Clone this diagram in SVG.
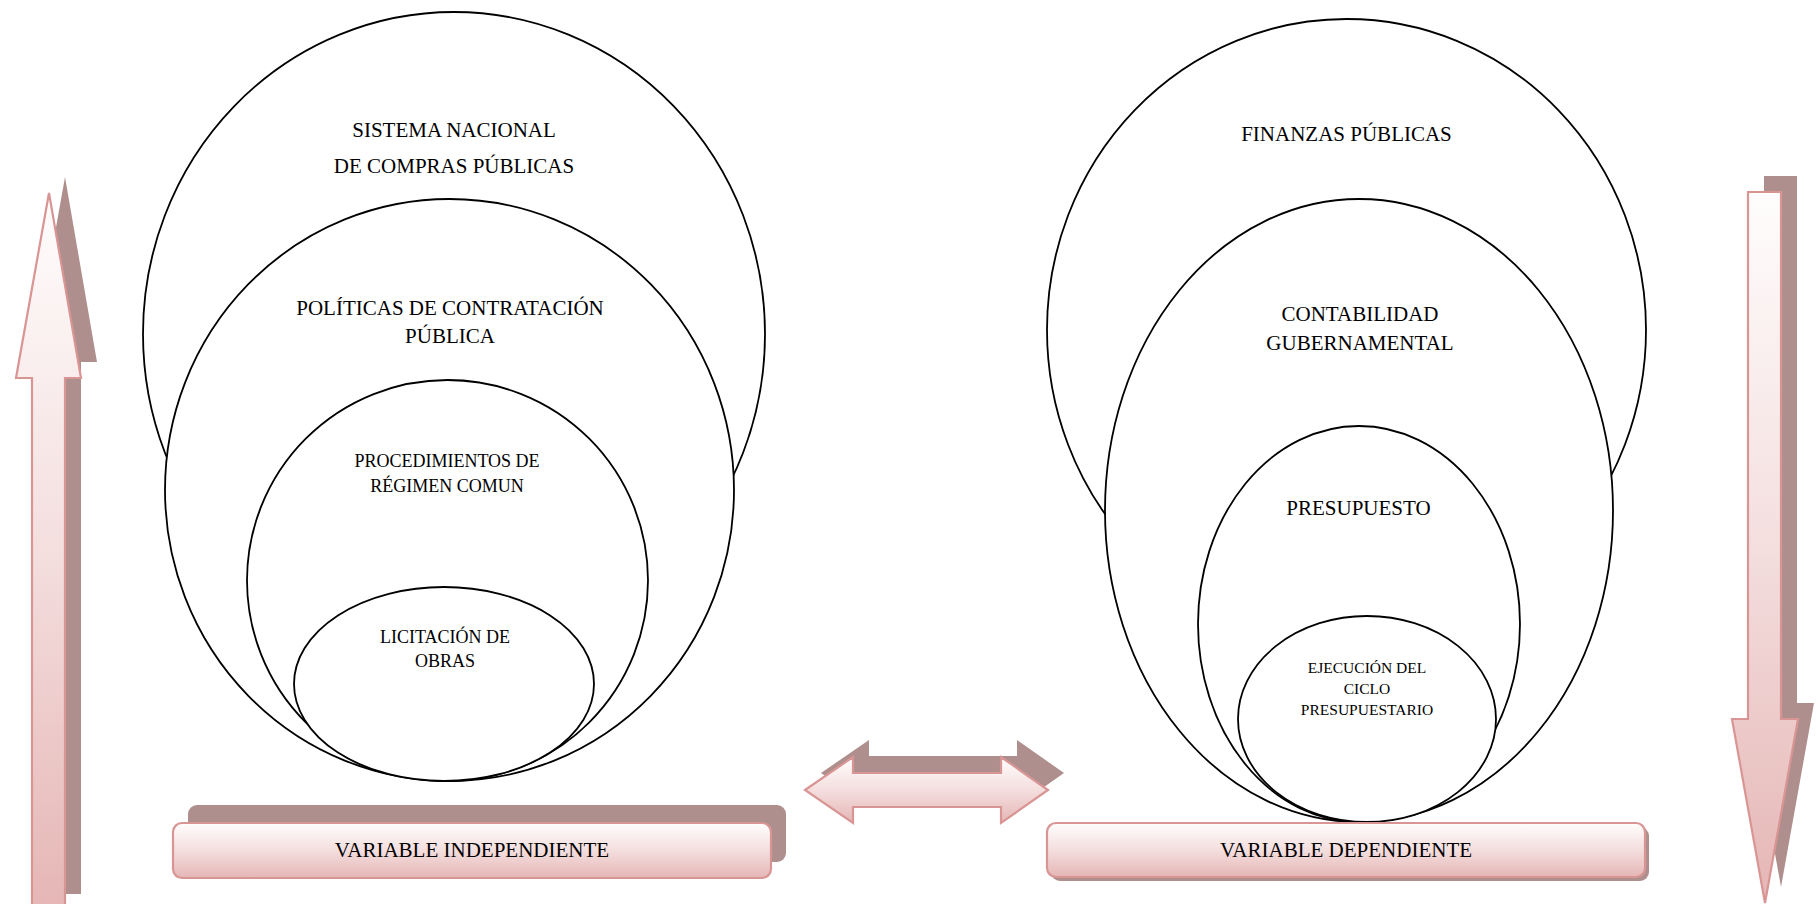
<svg xmlns="http://www.w3.org/2000/svg" width="1818" height="904" viewBox="0 0 1818 904">
<defs>
<linearGradient id="pinkV" x1="0" y1="0" x2="0" y2="1">
<stop offset="0" stop-color="#fffdfd"/>
<stop offset="0.5" stop-color="#f4dede"/>
<stop offset="1" stop-color="#e5b6b5"/>
</linearGradient>
<style>
.ell{fill:#fff;stroke:#000;stroke-width:1.8}
.lbl{font-family:"Liberation Serif","Times New Roman",serif;fill:#000;text-anchor:middle}
.shadow{fill:#ae8f8d}
.front{fill:url(#pinkV);stroke:#d99594;stroke-width:2.2;stroke-linejoin:miter}
</style>
</defs>
<rect width="1818" height="904" fill="#fff"/>

<g id="left-set">
<g id="n-sistema">
<ellipse class="ell" cx="454" cy="334" rx="311" ry="322"/>
<text class="lbl" x="454" y="137" font-size="21">SISTEMA NACIONAL</text>
<text class="lbl" x="454" y="173" font-size="21">DE COMPRAS PÚBLICAS</text>
</g>
<g id="n-politicas">
<ellipse class="ell" cx="449.5" cy="490" rx="284.5" ry="291"/>
<text class="lbl" x="450" y="315" font-size="21">POLÍTICAS DE CONTRATACIÓN</text>
<text class="lbl" x="450" y="343" font-size="21">PÚBLICA</text>
</g>
<g id="n-procedimientos">
<ellipse class="ell" cx="447.5" cy="580.5" rx="200.5" ry="200.5"/>
<text class="lbl" x="447" y="467" font-size="18">PROCEDIMIENTOS DE</text>
<text class="lbl" x="447" y="492" font-size="18">RÉGIMEN COMUN</text>
</g>
<g id="n-licitacion">
<ellipse class="ell" cx="444" cy="684" rx="150" ry="97"/>
<text class="lbl" x="445" y="643" font-size="18">LICITACIÓN DE</text>
<text class="lbl" x="445" y="667" font-size="18">OBRAS</text>
</g>
</g>

<g id="right-set">
<g id="n-finanzas">
<ellipse class="ell" cx="1346.5" cy="330" rx="299.5" ry="311"/>
<text class="lbl" x="1346.5" y="141" font-size="21">FINANZAS PÚBLICAS</text>
</g>
<g id="n-contabilidad">
<ellipse class="ell" cx="1359" cy="510.5" rx="254" ry="311.5"/>
<text class="lbl" x="1360" y="321" font-size="21">CONTABILIDAD</text>
<text class="lbl" x="1360" y="350" font-size="21">GUBERNAMENTAL</text>
</g>
<g id="n-presupuesto">
<ellipse class="ell" cx="1359" cy="624" rx="161" ry="198"/>
<text class="lbl" x="1358.5" y="515" font-size="21">PRESUPUESTO</text>
</g>
<g id="n-ejecucion">
<ellipse class="ell" cx="1367" cy="719" rx="129" ry="103"/>
<text class="lbl" x="1367" y="673" font-size="15.5">EJECUCIÓN DEL</text>
<text class="lbl" x="1367" y="694" font-size="15.5">CICLO</text>
<text class="lbl" x="1367" y="715" font-size="15.5">PRESUPUESTARIO</text>
</g>
</g>

<g id="connectors">
<g id="arrow-up">
<polygon class="shadow" transform="translate(16,-16)" points="49,193 81,378 65,378 65,910 32,910 32,378 16,378"/>
<polygon class="front" points="49,193 81,378 65,378 65,910 32,910 32,378 16,378"/>
</g>
<g id="arrow-down">
<polygon class="shadow" transform="translate(16,-16)" points="1748,192 1781,192 1781,719 1798,719 1765,903 1732,719 1748,719"/>
<polygon class="front" points="1748,192 1781,192 1781,719 1798,719 1765,903 1732,719 1748,719"/>
</g>
<g id="arrow-both">
<polygon class="shadow" transform="translate(16,-17)" points="805,790 853,757 853,773 1001,773 1001,757 1048,790 1001,823 1001,807 853,807 853,823"/>
<polygon class="front" points="805,790 853,757 853,773 1001,773 1001,757 1048,790 1001,823 1001,807 853,807 853,823"/>
</g>
</g>

<g id="n-var-independiente">
<rect class="shadow" x="188" y="805" width="598" height="57" rx="9"/>
<rect class="front" x="173" y="823" width="598" height="55" rx="9"/>
<text class="lbl" x="472" y="857" font-size="21">VARIABLE INDEPENDIENTE</text>
</g>
<g id="n-var-dependiente">
<rect class="shadow" x="1051" y="827" width="598" height="54" rx="9"/>
<rect class="front" x="1047" y="823" width="598" height="54" rx="9"/>
<text class="lbl" x="1346" y="857" font-size="21">VARIABLE DEPENDIENTE</text>
</g>
</svg>
